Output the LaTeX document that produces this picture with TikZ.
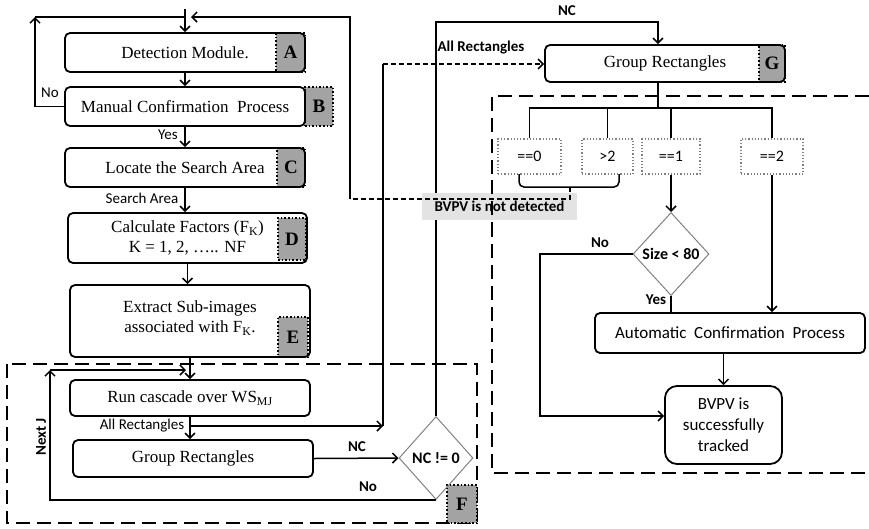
\documentclass[tikz,border=0pt]{standalone}
\usepackage{fontspec}
\setmainfont{Liberation Serif}
\newfontfamily\labfont{Carlito}
\usetikzlibrary{arrows.meta,shapes.geometric,calc}
\begin{document}
\begin{tikzpicture}[x=1pt,y=-1pt,
  box/.style={draw, line width=1.8pt, rounded corners=5pt, align=center, inner sep=0pt, font=\fontsize{17}{20}\selectfont},
  sbox/.style={box, font=\labfont\fontsize{17}{21}\selectfont},
  tag/.style={draw, dotted, line width=1.6pt, fill=gray!72, inner sep=0pt, font=\fontsize{19}{20}\selectfont\bfseries},
  arr/.style={line width=1.5pt, -{Straight Barb[length=5pt,width=10pt]}},
  ln/.style={line width=1.5pt},
  dln/.style={line width=1.5pt, dash pattern=on 5pt off 3pt},
  darr/.style={dln, -{Straight Barb[length=5pt,width=10pt]}},
  bigdash/.style={line width=1.8pt, dash pattern=on 14pt off 7pt},
  dia/.style={diamond, draw=gray, line width=1pt, inner sep=0pt, aspect=1, font=\labfont\bfseries\fontsize{16}{18}\selectfont},
  cond/.style={draw=gray, dotted, line width=1.2pt, inner sep=0pt, minimum height=35pt, font=\labfont\fontsize{16}{18}\selectfont},
  elab/.style={font=\labfont\fontsize{15}{18}\selectfont, inner sep=0pt},
  eblab/.style={font=\labfont\bfseries\fontsize{15}{18}\selectfont, inner sep=0pt},
]
\useasboundingbox (0,0) rectangle (869,528);

% dashed frames
\draw[bigdash] (7,364) rectangle (477,523);
\draw[bigdash] (869,96) -- (492,96) -- (492,473) -- (869,473);

% tags
\node[tag, minimum width=29pt, minimum height=39pt] (tA) at (290.5,52.5) {A};
\node[tag, minimum width=28pt, minimum height=39pt] (tB) at (319,106.5) {B};
\node[tag, minimum width=28pt, minimum height=39pt] (tC) at (291,167.5) {C};
\node[tag, minimum width=28pt, minimum height=42pt] (tD) at (292,239) {D};
\node[tag, minimum width=30pt, minimum height=40pt] (tE) at (293,337) {E};
\node[tag, minimum width=30pt, minimum height=38pt] (tF) at (462,504) {F};
\node[tag, minimum width=26pt, minimum height=37pt] (tG) at (772,63.5) {G};

% boxes
\node[box, minimum width=240pt, minimum height=39pt] (A) at (185,52.5) {Detection Module.};
\node[box, minimum width=240pt, minimum height=39pt] (B) at (185,106.5) {Manual Confirmation\ \ Process};
\node[box, minimum width=240pt, minimum height=39pt] (C) at (185,167.5) {Locate the Search Area};
\node[box, minimum width=239pt, minimum height=50pt] (D) at (187.5,238) {Calculate Factors (F\textsubscript{K})\\K = 1, 2, \dots.. NF};
\node[box, minimum width=240pt, minimum height=72pt] (E) at (190,321) {Extract Sub-images\\associated with F\textsubscript{K}.\\[-12pt]\mbox{}};
\node[box, minimum width=240pt, minimum height=36pt] (Run) at (190,398) {Run cascade over WS\textsubscript{MJ}};
\node[box, minimum width=240pt, minimum height=37pt] (Grp) at (193,458.5) {Group Rectangles};
\node[box, minimum width=240pt, minimum height=37pt] (G) at (665,63.5) {Group Rectangles};
\node[sbox, minimum width=270pt, minimum height=40pt] (Auto) at (730,333) {Automatic\ \ Confirmation\ \ Process};
\node[sbox, rounded corners=12pt, minimum width=117pt, minimum height=78pt] (BV) at (723.5,425) {BVPV is\\successfully\\tracked};

% diamonds
\node[dia, minimum width=74pt, minimum height=83pt] (F) at (436,458) {NC != 0};
\node[dia, minimum width=76pt, minimum height=83pt] (S) at (671,254) {Size < 80};

% condition boxes
\node[cond, minimum width=63pt] (eq0) at (529.5,156.5) {==0};
\node[cond, minimum width=51pt] (gt2) at (607.5,156.5) {>2};
\node[cond, minimum width=58pt] (eq1) at (671,156.5) {==1};
\node[cond, minimum width=62pt] (eq2) at (772,156.5) {==2};

% coordinates
\coordinate (entry) at (185,9);
\coordinate (nolt) at (35,17);
\coordinate (jtop) at (191,17);
\coordinate (ndc) at (350,199);
\coordinate (brtip) at (570,187);
\coordinate (brL) at (519,174);
\coordinate (brR) at (619,174);
\coordinate (nj) at (50,370);
\coordinate (njr) at (186,370);
\coordinate (arS) at (190,426);
\coordinate (arC) at (383,426);
\coordinate (arT) at (383,64);
\coordinate (nc1) at (436,22);
\coordinate (nc2) at (658,22);
\coordinate (tj) at (658,108);
\coordinate (nob) at (540,416);

% left column connectors
\draw[arr] (entry) -- (A.north);
\draw[arr] (B.west) -| (nolt);
\draw[ln] (nolt) -- (entry |- nolt);
\draw[arr] (A.south) -- (B.north);
\draw[arr] (B.south) -- (C.north);
\draw[arr] (C.south) -- (C.south |- D.north);
\draw[arr] (D.south) -- (D.south |- E.north);
\draw[arr] (E.south -| Run.north) -- (Run.north);
\draw[arr] (Run.south) -- (Run.south |- Grp.north);
\draw[arr] (F.south) -| (nj);
\draw[arr] (nj) -- (njr);
\draw[arr] (arS) -- (arC);
\draw[ln] (arC) -- (arT);
\draw[darr] (arT) -- (arT -| G.west);
\draw[arr] (Grp.east) -- (F.west);
\draw[arr] (F.north) -- (nc1) -- (nc2) -- (nc2 |- G.north);

% note box
\node[fill=gray!22, minimum width=155pt, minimum height=27pt, inner sep=0pt, font=\labfont\bfseries\fontsize{15}{18}\selectfont] (note) at (499.5,206.5) {BVPV is not detected};
\draw[bigdash] (492,180) -- (492,230);

% tree
\draw[ln] (G.south -| tj) -- (tj);
\draw[ln] (eq0.north) |- (tj) -| (eq2.north);
\draw[ln] (gt2.north) -- (gt2.north |- tj);
\draw[ln] (eq1.north) -- (eq1.north |- tj);
\draw[ln, rounded corners=5pt] (brL) |- (brtip) -| (brR);
\draw[dln] (brtip) |- (ndc);
\draw[arr] (ndc) |- (jtop);

% right side
\draw[arr] (eq1.south) -- (S.north);
\draw[arr] (S.west) -| (nob) -- (nob -| BV.west);
\draw[ln] (S.south) -- (S.south |- Auto.north);
\draw[arr] (eq2.south) -- (eq2.south |- Auto.north);
\draw[arr] (BV.north |- Auto.south) -- (BV.north);

% labels
\node[elab] at (50,93) {No};
\node[elab] at (168,135) {Yes};
\node[elab] at (142,198) {Search Area};
\node[elab] at (142,426) {All Rectangles};
\node[eblab, rotate=90] at (41,437) {Next J};
\node[eblab] at (357,447) {NC};
\node[eblab] at (368,487) {No};
\node[eblab] at (481,48) {All Rectangles};
\node[eblab] at (567,11) {NC};
\node[eblab] at (600,243) {No};
\node[eblab] at (656,300) {Yes};
\end{tikzpicture}
\end{document}
